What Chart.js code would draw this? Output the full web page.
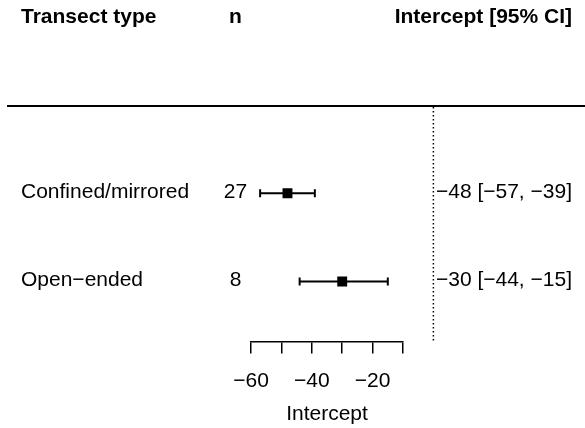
<!DOCTYPE html>
<html lang="en">
<head>
    <meta charset="UTF-8">
    <title>Intercept by transect type</title>
    <style>
        body {
            margin: 0;
            padding: 0;
            background-color: #fff;
        }
    </style>
    <script src="https://cdn.jsdelivr.net/npm/chart.js"></script>
</head>
<body>
    <canvas id="forest" width="585" height="428"></canvas>

    <script>
        // Model intercepts per transect type, with 95% CI
        const transectTypes = ['Confined/mirrored', 'Open\u2212ended'];
        const sampleSizes = [27, 8];
        const estimates = [-48, -30];
        const lowerCI = [-57, -44];
        const upperCI = [-39, -15];
        const xTicks = [-60, -50, -40, -30, -20, -10];
        const tickLabels = ['\u221260', '', '\u221240', '', '\u221220', ''];

        const FONT = '"Liberation Sans", Arial, sans-serif';
        const minus = v => (v < 0 ? '\u2212' + Math.abs(v) : String(v));

        // rows are numbered 1..n downwards, header sits on row -1
        const rows = transectTypes.map((_, i) => i + 1);

        const ciSets = rows.map((row, i) => ({
            type: 'line',
            data: [{ x: lowerCI[i], y: row }, { x: upperCI[i], y: row }],
            borderColor: '#000',
            borderWidth: 2,
            pointStyle: 'line',
            rotation: 90,
            pointRadius: 4,
            pointBorderWidth: 2,
            pointBorderColor: '#000',
            order: 2
        }));

        // table text, header rule and the dotted zero line
        const tablePlugin = {
            id: 'forestTable',
            afterDraw(chart) {
                const ctx = chart.ctx;
                const x = chart.scales.x;
                const y = chart.scales.y;
                const area = chart.chartArea;
                ctx.save();

                // header rule
                ctx.strokeStyle = '#000';
                ctx.lineWidth = 2;
                ctx.beginPath();
                ctx.moveTo(7, y.getPixelForValue(0) + 1);
                ctx.lineTo(chart.width, y.getPixelForValue(0) + 1);
                ctx.stroke();

                // no-effect line at 0
                const x0 = x.getPixelForValue(0);
                ctx.lineWidth = 1.5;
                ctx.setLineDash([1.5, 2.5]);
                ctx.beginPath();
                ctx.moveTo(x0, y.getPixelForValue(0) + 2);
                ctx.lineTo(x0, area.bottom);
                ctx.stroke();
                ctx.setLineDash([]);

                ctx.fillStyle = '#000';
                ctx.textBaseline = 'middle';

                // column headers
                const hy = y.getPixelForValue(-1);
                ctx.font = 'bold 21px ' + FONT;
                ctx.textAlign = 'left';
                ctx.fillText('Transect type', 21, hy);
                ctx.textAlign = 'center';
                ctx.fillText('n', 235.5, hy);
                ctx.textAlign = 'right';
                ctx.fillText('Intercept [95% CI]', 572, hy);

                // rows
                ctx.font = '21px ' + FONT;
                rows.forEach((row, i) => {
                    const ry = y.getPixelForValue(row) - 1.5;
                    ctx.textAlign = 'left';
                    ctx.fillText(transectTypes[i], 21, ry);
                    ctx.textAlign = 'center';
                    ctx.fillText(String(sampleSizes[i]), 235.5, ry);
                    ctx.textAlign = 'right';
                    ctx.fillText(minus(estimates[i]) + ' [' + minus(lowerCI[i]) + ', ' + minus(upperCI[i]) + ']', 572, ry);
                });
                ctx.restore();
            }
        };

        new Chart(document.getElementById('forest'), {
            type: 'scatter',
            data: {
                datasets: [
                    {
                        data: rows.map((row, i) => ({ x: estimates[i], y: row })),
                        pointStyle: 'rect',
                        pointRadius: 7,
                        backgroundColor: '#000',
                        borderColor: '#000',
                        borderWidth: 0,
                        order: 1
                    },
                    ...ciSets
                ]
            },
            options: {
                responsive: false,
                animation: false,
                events: [],
                layout: {
                    padding: { left: 251, right: 182, top: 105, bottom: 1 }
                },
                plugins: {
                    legend: { display: false },
                    tooltip: { enabled: false }
                },
                scales: {
                    x: {
                        type: 'linear',
                        min: xTicks[0],
                        max: xTicks[xTicks.length - 1],
                        afterBuildTicks: scale => {
                            scale.ticks = xTicks.map(v => ({ value: v }));
                        },
                        ticks: {
                            color: '#000',
                            font: { family: FONT, size: 21 },
                            padding: 15,
                            maxRotation: 0,
                            autoSkip: false,
                            callback: v => tickLabels[xTicks.indexOf(v)]
                        },
                        grid: {
                            display: true,
                            drawOnChartArea: false,
                            drawTicks: true,
                            tickLength: 12,
                            color: '#000',
                            lineWidth: 1.5
                        },
                        border: { display: true, color: '#000', width: 1.5 },
                        title: {
                            display: true,
                            text: 'Intercept',
                            color: '#000',
                            font: { family: FONT, size: 21 },
                            padding: { top: -7, bottom: 0 }
                        }
                    },
                    y: {
                        type: 'linear',
                        display: false,
                        reverse: true,
                        min: 0,
                        max: 2.682
                    }
                }
            },
            plugins: [tablePlugin]
        });
    </script>
</body>
</html>
